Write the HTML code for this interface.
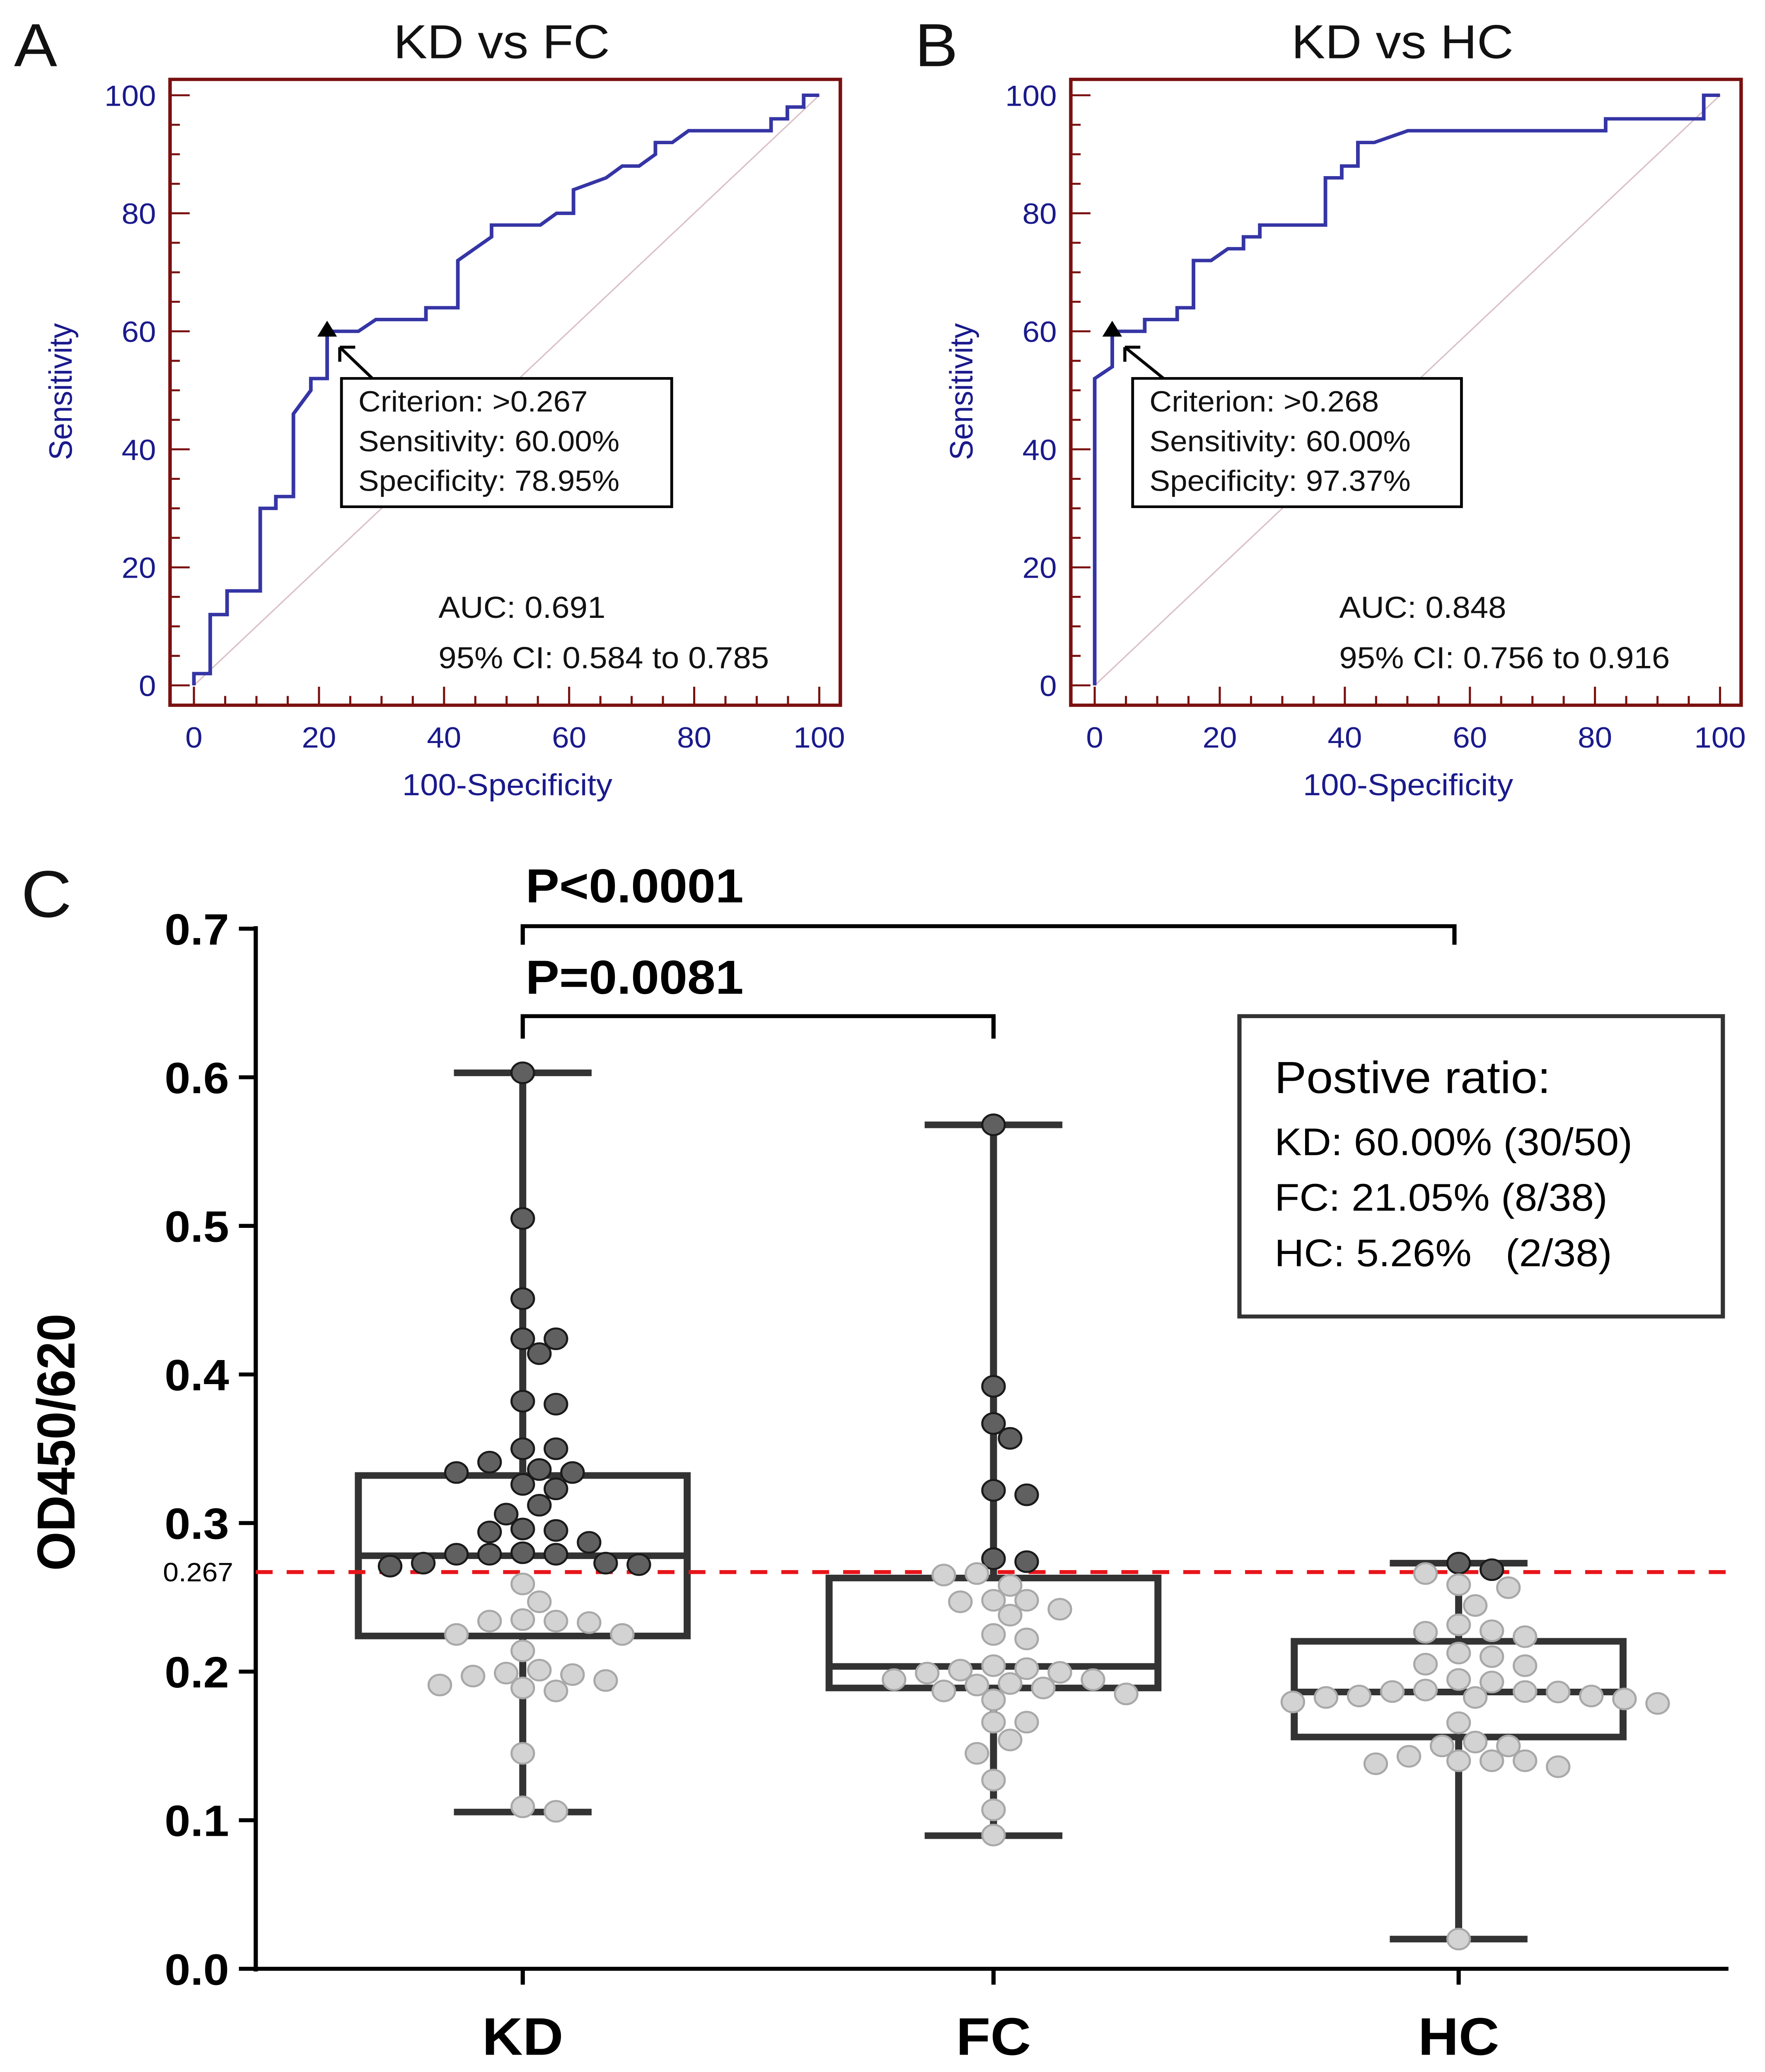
<!DOCTYPE html>
<html><head><meta charset="utf-8">
<style>
html,body{margin:0;padding:0;background:#fff;overflow:hidden;width:100%;height:100%;}
svg{display:block;position:absolute;left:0;top:0;width:100vw;height:100vh;font-family:"Liberation Sans",Arial,sans-serif;}
.pre{white-space:pre;}
</style></head>
<body>
<svg id="fig" viewBox="0 0 1256 1566" preserveAspectRatio="none" xmlns="http://www.w3.org/2000/svg">
<rect x="0" y="0" width="1256" height="1566" fill="#fff"/>
<g id="rocA"></g>
<g id="rocB"></g>
<g id="boxC"></g>
</svg>
<script>
// ROC data
const fprA = [0,0,2.6,2.6,5.3,5.3,10.6,10.6,13.1,13.1,15.9,15.9,18.7,18.7,21.3,21.3,26.3,29.1,37.1,37.1,42.2,42.2,47.6,47.6,55.4,58,60.7,60.7,65.9,68.5,71.2,73.8,73.8,76.5,79.1,92.3,92.3,94.9,94.9,97.5,97.5,100];
const tprA = [0,2,2,12,12,16,16,30,30,32,32,46,50,52,52,60,60,62,62,64,64,72,76,78,78,80,80,84,86,88,88,90,92,92,94,94,96,96,98,98,100,100];
const fprB = [0,0,2.8,2.8,8,8,13.2,13.2,15.8,15.8,18.6,21.3,23.8,23.8,26.4,26.4,36.9,36.9,39.5,39.5,42.1,42.1,44.7,50.1,81.7,81.7,97.4,97.4,100];
const tprB = [0,52,54,60,60,62,62,64,64,72,72,74,74,76,76,78,78,86,86,88,88,92,92,94,94,96,96,100,100];
const rocTicks = [0,20,40,60,80,100];
const cutA = [21.3,60];
const cutB = [2.8,60];
const infoA = ["Criterion: >0.267","Sensitivity: 60.00%","Specificity: 78.95%"];
const infoB = ["Criterion: >0.268","Sensitivity: 60.00%","Specificity: 97.37%"];

// Box plot data
const groups = ["KD","FC","HC"];
const cutoff = 0.267;
const kdVals = [0.603,0.505,0.451,0.424,0.424,0.414,0.382,0.380,0.350,0.350,0.341,0.334,0.334,0.336,0.326,0.323,0.312,0.306,0.296,0.294,0.295,0.287,0.279,0.279,0.280,0.279,0.273,0.272,0.271,0.273,
 0.259,0.247,0.234,0.234,0.233,0.235,0.225,0.225,0.214,0.198,0.197,0.191,0.187,0.189,0.194,0.199,0.201,0.145,0.109,0.106];
const fcVals = [0.568,0.392,0.367,0.357,0.322,0.319,0.276,0.274,
 0.266,0.265,0.258,0.248,0.248,0.247,0.242,0.238,0.225,0.222,0.204,0.202,0.1995,0.1946,0.192,0.189,0.185,0.181,0.187,0.191,0.1946,0.199,0.201,0.166,0.166,0.154,0.145,0.127,0.107,0.090];
const hcVals = [0.273,0.2686,
 0.266,0.2565,0.2585,0.2445,0.2315,0.2275,0.2265,0.2235,0.2125,0.2101,0.204,0.205,0.1947,0.193,
 0.1866,0.1863,0.1836,0.1826,0.1796,0.1876,0.1786,0.1816,0.1826,0.1836,0.1866,0.1656,0.150,0.1526,0.150,0.143,0.140,0.138,0.136,0.140,0.140,0.020];
const boxQ1 = [0.224,0.189,0.156];
const boxMed = [0.278,0.2035,0.1863];
const boxQ3 = [0.332,0.263,0.2204];
const boxMin = [0.1055,0.0896,0.020];
const boxMax = [0.603,0.568,0.273];
const yTicksC = [0,0.1,0.2,0.3,0.4,0.5,0.6,0.7];
const ratioLines = ["KD: 60.00% (30/50)","FC: 21.05% (8/38)","HC: 5.26%   (2/38)"];

const NS = "http://www.w3.org/2000/svg";
function mk(tag, attrs, parent, txt){
  const e = document.createElementNS(NS, tag);
  for (const k in attrs) e.setAttribute(k, attrs[k]);
  if (txt !== undefined) e.textContent = txt;
  parent.appendChild(e);
  return e;
}

function roc(gid, ox, fpr, tpr, cut, info, title, letter, auc, ci, boxX, boxW){
  const g = document.getElementById(gid);
  const xs = v => ox + 138 + v*4.45;
  const ys = v => 518 - v*4.46;
  const navy = "#1a1a8c";
  let t;
  t = mk("text",{x:ox+10,y:50,"font-size":46,fill:"#111"},g,letter);
  
  
  t = mk("text",{x:ox+357,y:44,"font-size":36,"text-anchor":"middle",fill:"#111"},g,title);
  
  
  t = mk("line",{x1:xs(0),y1:ys(0),x2:xs(100),y2:ys(100),stroke:"#d9bfc6","stroke-width":1},g);
  
  
  t = mk("rect",{x:ox+121,y:60,width:477,height:473,fill:"none",stroke:"#7a1010","stroke-width":2.5},g);
  
  
  for (let v=0; v<=100; v+=5){
    const L = (v%20===0)?14:7;
    t = mk("line",{x1:ox+121,y1:ys(v),x2:ox+121+L,y2:ys(v),stroke:"#7a1010","stroke-width":1.5},g);
    
    
    t = mk("line",{x1:xs(v),y1:533,x2:xs(v),y2:533-L,stroke:"#7a1010","stroke-width":1.5},g);
    
    
  }
  rocTicks.forEach(v=>{
    t = mk("text",{x:ox+111,y:ys(v)+8,"font-size":22,"text-anchor":"end",fill:navy},g,String(v));
    
    
    t = mk("text",{x:xs(v),y:565,"font-size":22,"text-anchor":"middle",fill:navy},g,String(v));
    
    
  });
  t = mk("text",{x:ox+361,y:601,"font-size":23,"text-anchor":"middle",fill:navy},g,"100-Specificity");
  
  
  t = mk("text",{x:0,y:0,"font-size":23,"text-anchor":"middle",fill:navy,transform:`translate(${ox+51},296) rotate(-90)`},g,"Sensitivity");
  
  
  let d = "";
  for (let i=0;i<fpr.length;i++) d += (i?"L":"M")+xs(fpr[i]).toFixed(1)+","+ys(tpr[i]).toFixed(1);
  t = mk("path",{d:d,fill:"none",stroke:"#3535a5","stroke-width":2.6},g);
  
  
  const cx = xs(cut[0]), cy = ys(cut[1]);
  t = mk("polygon",{points:`${cx},${cy-8} ${cx-7},${cy+4} ${cx+7},${cy+4}`,fill:"#000"},g);
  
  
  t = mk("path",{d:`M${boxX+22},286 L${cx+9},${cy+12} M${cx+9},${cy+12} l0,11 M${cx+9},${cy+12} l11,0`,stroke:"#000","stroke-width":2.2,fill:"none"},g);
  
  
  t = mk("rect",{x:boxX,y:286,width:boxW,height:97,fill:"#fff",stroke:"#000","stroke-width":2},g);
  
  
  info.forEach((s,i)=>{
    t = mk("text",{x:boxX+12,y:311+i*30,"font-size":22,fill:"#111"},g,s);
    
    
  });
  t = mk("text",{x:ox+312,y:467,"font-size":23,fill:"#111"},g,auc);
  
  
  t = mk("text",{x:ox+312,y:505,"font-size":23,fill:"#111"},g,ci);
  
  
}
roc("rocA",0,fprA,tprA,cutA,infoA,"KD vs FC","A","AUC: 0.691","95% CI: 0.584 to 0.785",243,235);
roc("rocB",641,fprB,tprB,cutB,infoB,"KD vs HC","B","AUC: 0.848","95% CI: 0.756 to 0.916",806,234);

(function(){
  const g = document.getElementById("boxC");
  const ys = v => 1488 - v*1123;
  const gx = [372,707,1038];
  const dark = "#333";
  let t;
  t = mk("text",{x:15,y:693,"font-size":50,fill:"#111"},g,"C");
  
  
  t = mk("line",{x1:182,y1:700,x2:182,y2:1490,stroke:"#000","stroke-width":3},g);
  
  
  t = mk("line",{x1:180,y1:1488,x2:1230,y2:1488,stroke:"#000","stroke-width":3},g);
  
  
  yTicksC.forEach(v=>{
    t = mk("line",{x1:170,y1:ys(v),x2:182,y2:ys(v),stroke:"#000","stroke-width":3},g);
    
    
    t = mk("text",{x:163,y:ys(v)+12,"font-size":33,"font-weight":"bold","text-anchor":"end",fill:"#000"},g,v.toFixed(1));
    
    
  });
  t = mk("text",{x:166,y:ys(cutoff)+7,"font-size":20,"text-anchor":"end",fill:"#000"},g,String(cutoff));
  
  
  t = mk("text",{x:0,y:0,"font-size":38,"font-weight":"bold","text-anchor":"middle",fill:"#000",transform:"translate(53,1090) rotate(-90)"},g,"OD450/620");
  
  
  groups.forEach((n,i)=>{
    t = mk("line",{x1:gx[i],y1:1488,x2:gx[i],y2:1500,stroke:"#000","stroke-width":3},g);
    
    
    t = mk("text",{x:gx[i],y:1553,"font-size":40,"font-weight":"bold","text-anchor":"middle",fill:"#000"},g,n);
    
    
  });
  const hw = 117, cw = 49;
  groups.forEach((n,i)=>{
    const x = gx[i];
    t = mk("line",{x1:x,y1:ys(boxMax[i]),x2:x,y2:ys(boxMin[i]),stroke:dark,"stroke-width":5},g);
    
    
    [boxMax[i],boxMin[i]].forEach(v=>{
      t = mk("line",{x1:x-cw,y1:ys(v),x2:x+cw,y2:ys(v),stroke:dark,"stroke-width":5},g);
      
      
    });
    t = mk("rect",{x:x-hw,y:ys(boxQ3[i]),width:2*hw,height:ys(boxQ1[i])-ys(boxQ3[i]),fill:"#fff",stroke:dark,"stroke-width":5},g);
    
    
    t = mk("line",{x1:x-hw,y1:ys(boxMed[i]),x2:x+hw,y2:ys(boxMed[i]),stroke:dark,"stroke-width":5},g);
    
    
  });
  t = mk("line",{x1:182,y1:ys(cutoff),x2:1230,y2:ys(cutoff),stroke:"#e8141a","stroke-width":3,"stroke-dasharray":"12,10"},g);
  
  
  [kdVals,fcVals,hcVals].forEach((vals,i)=>{
    const sorted = vals.slice().sort((a,b)=>b-a);
    const placed = [];
    sorted.forEach(v=>{
      const y = ys(v);
      let off = 0;
      for (let k=0;k<40;k++){
        const m = (k===0)?0:(k%2? Math.ceil(k/2): -Math.ceil(k/2));
        const xo = m*11.8;
        if (!placed.some(p=>Math.hypot(p[0]-xo,p[1]-y)<16.2)){ off = xo; break; }
      }
      placed.push([off,y]);
      const pos = v > cutoff;
      const c = mk("ellipse",{cx:gx[i]+off,cy:y,rx:8,ry:7.8,fill:pos?"#606060":"#d3d3d3",stroke:pos?"#1a1a1a":"#a8a8a8","stroke-width":1.5},g);
      
      
    });
  });
  t = mk("path",{d:"M372,714 L372,700 L1035,700 L1035,714",fill:"none",stroke:"#000","stroke-width":3},g);
  
  
  t = mk("text",{x:374,y:682,"font-size":36,"font-weight":"bold",fill:"#000"},g,"P<0.0001");
  
  
  t = mk("path",{d:"M372,785 L372,768 L707,768 L707,785",fill:"none",stroke:"#000","stroke-width":3},g);
  
  
  t = mk("text",{x:374,y:751,"font-size":36,"font-weight":"bold",fill:"#000"},g,"P=0.0081");
  
  
  t = mk("rect",{x:882,y:768,width:344,height:227,fill:"#fff",stroke:"#333","stroke-width":3},g);
  
  
  t = mk("text",{x:907,y:826,"font-size":34,fill:"#000"},g,"Postive ratio:");
  
  
  ratioLines.forEach((s,i)=>{
    t = mk("text",{x:907,y:873+i*42,"font-size":29,fill:"#000","class":"pre"},g,s);
    
    
  });
})();
</script>
</body></html>
